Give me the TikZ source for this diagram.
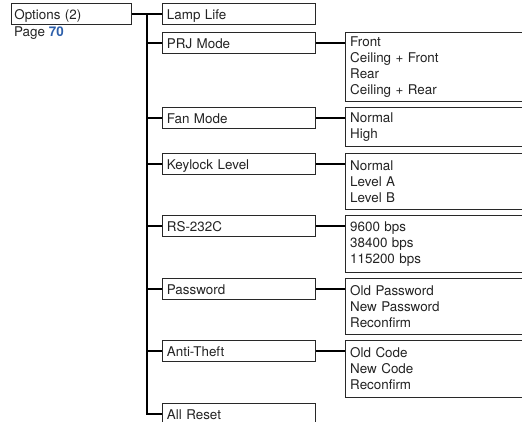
\documentclass[tikz,border=0pt]{standalone}
\usepackage{fontspec}
\setmainfont{TeX Gyre Heros}
\usepackage{tikz}
\usetikzlibrary{positioning,calc}
\definecolor{txtclr}{RGB}{35,35,35}
\definecolor{boxclr}{RGB}{40,40,40}
\definecolor{pageclr}{RGB}{45,95,170}
\tikzset{
    menu/.style={rectangle,draw=boxclr,line width=0.8pt,fill=white,text=txtclr,minimum height=21pt,
                 text height=12pt,text depth=1.5pt,inner ysep=0pt,align=left,anchor=north west},
    item/.style={menu,text width=144pt,inner xsep=4.5pt},
    optbox/.style={menu,text width=114pt,inner xsep=3pt},
    choice/.style={rectangle,draw=boxclr,line width=0.8pt,fill=white,text=txtclr,text width=190pt,
                   inner xsep=5pt,inner ysep=4pt,align=left},
    link/.style={line width=1.5pt,black},
}

\begin{document}
\begin{tikzpicture}[x=1pt,y=-1pt,node distance=29pt,every node/.style={font=\fontsize{13.4}{16}\selectfont}]
\useasboundingbox (0,0) rectangle (522,422);
\node[optbox] (opt) at (11,3) {Options (2)};
\node[anchor=base west,inner sep=0pt,text=txtclr] (page) at (14,37) {Page \textcolor{pageclr}{\textbf{70}}};

\node[item] (lamp)  at (162,3)   {Lamp Life};
\node[item] (prj)   at (162,32)  {PRJ Mode};
\node[item] (fan)   at (162,107) {Fan Mode};
\node[item] (key)   at (162,153) {Keylock Level};
\node[item] (rs)    at (162,215) {RS-232C};
\node[item] (pwd)   at (162,278) {Password};
\node[item] (theft) at (162,340) {Anti-Theft};
\node[item] (reset) at (162,403) {All Reset};

\node[choice,right=of prj.north east,anchor=north west,minimum height=68pt]   (prj-opt)   {Front\\Ceiling + Front\\Rear\\Ceiling + Rear};
\node[choice,right=of fan.north east,anchor=north west,minimum height=39pt]   (fan-opt)   {Normal\\High};
\node[choice,right=of key.north east,anchor=north west,minimum height=56pt]   (key-opt)   {Normal\\Level A\\Level B};
\node[choice,right=of rs.north east,anchor=north west,minimum height=57pt]    (rs-opt)    {9600 bps\\38400 bps\\115200 bps};
\node[choice,right=of pwd.north east,anchor=north west,minimum height=56pt]   (pwd-opt)   {Old Password\\New Password\\Reconfirm};
\node[choice,right=of theft.north east,anchor=north west,minimum height=57pt] (theft-opt) {Old Code\\New Code\\Reconfirm};

\coordinate (trunk) at ($(opt.east)!0.5!(lamp.west)$);
\draw[link] (opt.east) -- (lamp.west);
\draw[link] (trunk) |- (reset.west);
\foreach \n in {prj,fan,key,rs,pwd,theft}{
  \draw[link] (trunk |- \n.west) -- (\n.west);
  \draw[link] (\n.east) -- (\n.east -| \n-opt.west);
}
\end{tikzpicture}
\end{document}
